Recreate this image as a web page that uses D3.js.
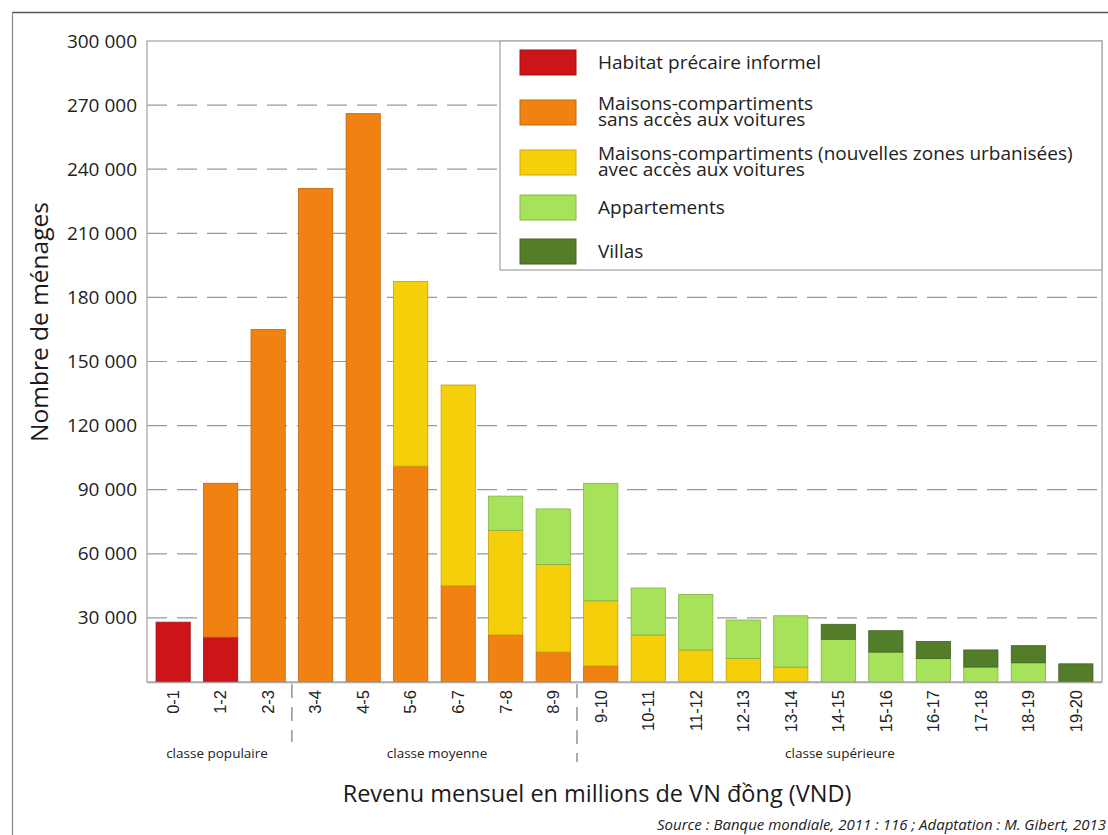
<!DOCTYPE html>
<html><head><meta charset="utf-8">
<script src="https://cdn.jsdelivr.net/npm/d3@7"></script>
<style>
html,body{margin:0;padding:0;background:#fff;}
svg{display:block;font-family:"Open Sans",sans-serif;}
</style></head>
<body><svg id="c" width="1108" height="835"></svg>
<script>
const categories = ["0-1","1-2","2-3","3-4","4-5","5-6","6-7","7-8","8-9","9-10","10-11","11-12","12-13","13-14","14-15","15-16","16-17","17-18","18-19","19-20"];
const seriesNames = ["Habitat précaire informel","Maisons-compartiments sans accès aux voitures","Maisons-compartiments (nouvelles zones urbanisées) avec accès aux voitures","Appartements","Villas"];
const informel     = [28000,21000,0,0,0,0,0,0,0,0,0,0,0,0,0,0,0,0,0,0];
const sansAcces    = [0,72000,165000,231000,266000,101000,45000,22000,14000,7500,0,0,0,0,0,0,0,0,0,0];
const avecAcces    = [0,0,0,0,0,86500,94000,49000,41000,30500,22000,15000,11000,7000,0,0,0,0,0,0];
const appartements = [0,0,0,0,0,0,0,16000,26000,55000,22000,26000,18000,24000,20000,14000,11000,7000,9000,0];
const villas       = [0,0,0,0,0,0,0,0,0,0,0,0,0,0,7000,10000,8000,8000,8000,8500];
const yTicks = [30000,60000,90000,120000,150000,180000,210000,240000,270000,300000];
const classes = [
  {label:"classe populaire", from:0, to:2},
  {label:"classe moyenne", from:3, to:8},
  {label:"classe supérieure", from:9, to:19}
];
const legendLines = [
  ["Habitat précaire informel"],
  ["Maisons-compartiments","sans accès aux  voitures"],
  ["Maisons-compartiments (nouvelles zones urbanisées)","avec accès aux voitures"],
  ["Appartements"],
  ["Villas"]
];
const colors = ["#cc1419","#f18211","#f6cf0b","#a6e35a","#547d29"];

const svg = d3.select("#c");
const L = 147, R = 1102, T = 41, B = 682;

// frame
svg.append("line").attr("x1",12).attr("x2",1108).attr("y1",12.5).attr("y2",12.5).attr("stroke","#555").attr("stroke-width",1.3);
svg.append("line").attr("x1",12.5).attr("x2",12.5).attr("y1",12).attr("y2",835).attr("stroke","#888").attr("stroke-width",1.2);

const x = d3.scaleBand().domain(categories).range([L,R]).paddingInner(0.28).paddingOuter(0.19);
const y = d3.scaleLinear().domain([0,300000]).range([B,T]);

// gridlines
const fmt = v => d3.format(",")(v).replace(/,/g," ");
svg.append("g").selectAll("line").data(yTicks.filter(d=>d<300000)).join("line")
  .attr("x1",L).attr("x2",R).attr("y1",d=>y(d)).attr("y2",d=>y(d))
  .attr("stroke","#9a9a9a").attr("stroke-width",1.2).attr("stroke-dasharray","20,10");

// plot border
svg.append("rect").attr("x",L).attr("y",T).attr("width",R-L).attr("height",B-T)
  .attr("fill","none").attr("stroke","#a8a8a8").attr("stroke-width",1.3);

// y axis labels
const yAxis = d3.axisLeft(y).tickValues(yTicks).tickFormat(fmt).tickSize(0).tickPadding(10);
const ga = svg.append("g").attr("transform",`translate(${L},0)`).call(yAxis);
ga.select(".domain").remove();
ga.selectAll("text").attr("font-size",19).attr("fill","#222").attr("font-family","Open Sans");

// legend box
const lg = svg.append("g");
lg.append("rect").attr("x",500).attr("y",T).attr("width",R-500).attr("height",229)
  .attr("fill","#fff").attr("stroke","#a8a8a8").attr("stroke-width",1.3);
const swY = [50,100,150,195,239];
legendLines.forEach((lines,i)=>{
  lg.append("rect").attr("x",520).attr("y",swY[i]).attr("width",56).attr("height",25)
    .attr("fill",colors[i]).attr("stroke",d3.color(colors[i]).darker(0.6)).attr("stroke-width",1);
  const cy = swY[i]+12.5;
  const t = lg.append("text").attr("x",598).attr("font-size",19).attr("fill","#222");
  if(lines.length===1){
    t.append("tspan").attr("x",598).attr("y",cy+6.5).text(lines[0]);
  } else {
    t.append("tspan").attr("x",598).attr("y",cy-3).text(lines[0]);
    t.append("tspan").attr("x",598).attr("y",cy+13.5).text(lines[1]);
  }
});

// stacked bars
const rows = categories.map((c,i)=>({cat:c, s0:informel[i], s1:sansAcces[i], s2:avecAcces[i], s3:appartements[i], s4:villas[i]}));
const stack = d3.stack().keys(["s0","s1","s2","s3","s4"])(rows);
svg.append("g").selectAll("g").data(stack).join("g")
  .attr("fill",(d,i)=>colors[i]).attr("stroke",(d,i)=>d3.color(colors[i]).darker(0.7))
  .selectAll("rect").data(d=>d.filter(p=>p[1]-p[0]>0)).join("rect")
  .attr("x",d=>x(d.data.cat)).attr("width",x.bandwidth())
  .attr("y",d=>y(d[1])).attr("height",d=>y(d[0])-y(d[1])).attr("stroke-width",0.8);

// bottom axis line
svg.append("line").attr("x1",L).attr("x2",R).attr("y1",B+0.5).attr("y2",B+0.5).attr("stroke","#a8a8a8").attr("stroke-width",1.3);

// x labels
const xa = svg.append("g").attr("transform",`translate(0,${B})`).call(d3.axisBottom(x).tickSize(0));
xa.select(".domain").remove();
xa.selectAll("text").attr("font-size",16.5).attr("fill","#222")
  .attr("transform","rotate(-90)").attr("text-anchor","end").attr("x",-8).attr("y",0).attr("dy","0.35em");

// separators
const sep = i => (x(categories[i]) + x.bandwidth() + x(categories[i+1]))/2;
[[2,742],[8,762]].forEach(([i,yy])=>{
  svg.append("line").attr("x1",sep(i)).attr("x2",sep(i)).attr("y1",B+2).attr("y2",yy)
    .attr("stroke","#777").attr("stroke-width",1.2).attr("stroke-dasharray","14,9");
});

// class labels
const classX = [217,437,840];
classes.forEach((c,i)=>{
  svg.append("text").attr("x",classX[i]).attr("y",758).attr("text-anchor","middle")
    .attr("font-size",13.5).attr("fill","#222").text(c.label);
});

// titles
svg.append("text").attr("x",597).attr("y",802).attr("text-anchor","middle").attr("font-size",23.5).attr("fill","#1a1a1a")
  .text("Revenu mensuel en millions de VN đồng (VND)");
svg.append("text").attr("transform","translate(48,322) rotate(-90)").attr("text-anchor","middle").attr("font-size",24.5).attr("fill","#1a1a1a")
  .text("Nombre de ménages");
svg.append("text").attr("x",1106).attr("y",830).attr("text-anchor","end").attr("font-size",15).attr("font-style","italic").attr("fill","#222")
  .text("Source : Banque mondiale, 2011 : 116 ; Adaptation : M. Gibert, 2013");
</script></body></html>
